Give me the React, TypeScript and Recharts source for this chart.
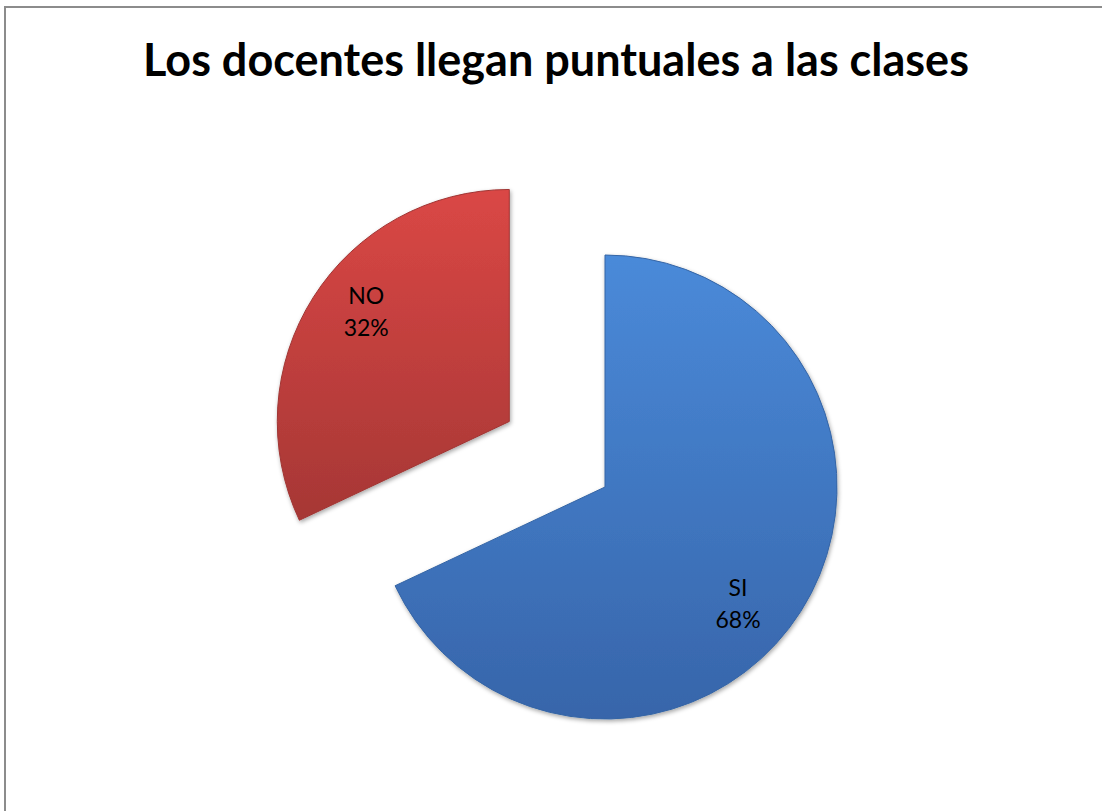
import React from 'react';
import { PieChart, Pie, Cell } from 'recharts';

const categories = ['SI', 'NO'];
const percents = [68, 32];
const explodedCategory = 'NO';

const chartTitle = 'Los docentes llegan puntuales a las clases';

const data = categories.map((name, i) => ({ name, value: percents[i] }));

const RAD = Math.PI / 180;
const CX = 605;
const CY = 487;
const R = 232;
const EXPLODE = 116;

// mid angle of the exploded slice, in recharts' angle convention (start 90, clockwise)
function sliceMidAngle(name: string) {
    const total = percents.reduce((a, b) => a + b, 0);
    let start = 90;
    for (let i = 0; i < categories.length; i++) {
        const sweep = (percents[i] / total) * 360;
        if (categories[i] === name) return start - sweep / 2;
        start -= sweep;
    }
    return 90;
}

const explodeAngle = sliceMidAngle(explodedCategory) - 2;
const explodeCx = CX + Math.cos(-explodeAngle * RAD) * EXPLODE;
const explodeCy = CY + Math.sin(-explodeAngle * RAD) * EXPLODE;

function makeLabel(show: string) {
    return (props: any) => {
        const { cx, cy, midAngle, outerRadius, name, percent } = props;
        if (name !== show) return null;
        const a = midAngle - 7;
        const r = outerRadius * 0.77;
        const x = cx + Math.cos(-a * RAD) * r - 5;
        const y = cy + Math.sin(-a * RAD) * r;
        return (
            <text
                x={x}
                y={y}
                textAnchor='middle'
                fontFamily='Lato, "Open Sans", sans-serif'
                fontSize={23}
                fill='#000'
            >
                <tspan x={x} dy={-4}>{name}</tspan>
                <tspan x={x} dy={32}>{`${Math.round(percent * 100)}%`}</tspan>
            </text>
        );
    };
}

const fills: Record<string, string> = { SI: 'url(#gradSI)', NO: 'url(#gradNO)' };
const strokes: Record<string, string> = { SI: '#3565a5', NO: '#a03634' };
const noMargin = { top: 0, right: 0, bottom: 0, left: 0 };

export default function App() {
    return (
        <div style={{ position: 'absolute', left: 0, top: 0, width: 1102, height: 811, background: '#fff', overflow: 'hidden' }}>
            <div style={{ position: 'absolute', left: 0, top: 0 }}>
                <PieChart width={1102} height={811} margin={noMargin}>
                    <defs>
                        <linearGradient id='gradSI' x1='0' y1='0' x2='0' y2='1'>
                            <stop offset='0%' stopColor='#4a8ad9' />
                            <stop offset='100%' stopColor='#3765aa' />
                        </linearGradient>
                        <linearGradient id='gradNO' x1='0' y1='0' x2='0' y2='1'>
                            <stop offset='0%' stopColor='#da4745' />
                            <stop offset='100%' stopColor='#a63735' />
                        </linearGradient>
                        <filter id='shadow' x='-10%' y='-10%' width='120%' height='120%'>
                            <feDropShadow dx='1' dy='2' stdDeviation='2' floodColor='#000' floodOpacity='0.35' />
                        </filter>
                    </defs>
                    <Pie
                        data={data}
                        dataKey='value'
                        nameKey='name'
                        cx={CX}
                        cy={CY}
                        outerRadius={R}
                        startAngle={90}
                        endAngle={-270}
                        isAnimationActive={false}
                        label={makeLabel('SI')}
                        labelLine={false}
                        style={{ filter: 'url(#shadow)' }}
                    >
                        {data.map((d) => (
                            <Cell
                                key={d.name}
                                fill={d.name === explodedCategory ? 'none' : fills[d.name]}
                                stroke={d.name === explodedCategory ? 'none' : strokes[d.name]}
                                strokeWidth={1}
                            />
                        ))}
                    </Pie>
                    <Pie
                        data={data}
                        dataKey='value'
                        nameKey='name'
                        cx={explodeCx}
                        cy={explodeCy}
                        outerRadius={R}
                        startAngle={90}
                        endAngle={-270}
                        isAnimationActive={false}
                        label={makeLabel(explodedCategory)}
                        labelLine={false}
                        style={{ filter: 'url(#shadow)' }}
                    >
                        {data.map((d) => (
                            <Cell
                                key={d.name}
                                fill={d.name === explodedCategory ? fills[d.name] : 'none'}
                                stroke={d.name === explodedCategory ? strokes[d.name] : 'none'}
                                strokeWidth={1}
                            />
                        ))}
                    </Pie>
                </PieChart>
            </div>
            <div style={{ position: 'absolute', left: 4, top: 6, width: 1098, height: 2, background: '#8c8c8c' }} />
            <div style={{ position: 'absolute', left: 4, top: 6, width: 2, height: 805, background: '#8c8c8c' }} />
            <div
                style={{
                    position: 'absolute',
                    left: 0,
                    top: 30,
                    width: 1102,
                    textAlign: 'center',
                    fontFamily: 'Lato, "Open Sans", sans-serif',
                    fontWeight: 'bold',
                    fontSize: 45,
                    lineHeight: '58px',
                    whiteSpace: 'nowrap',
                    color: '#000',
                }}
            >
                <span style={{ position: 'relative', left: 5 }}>{chartTitle}</span>
            </div>
        </div>
    );
}
